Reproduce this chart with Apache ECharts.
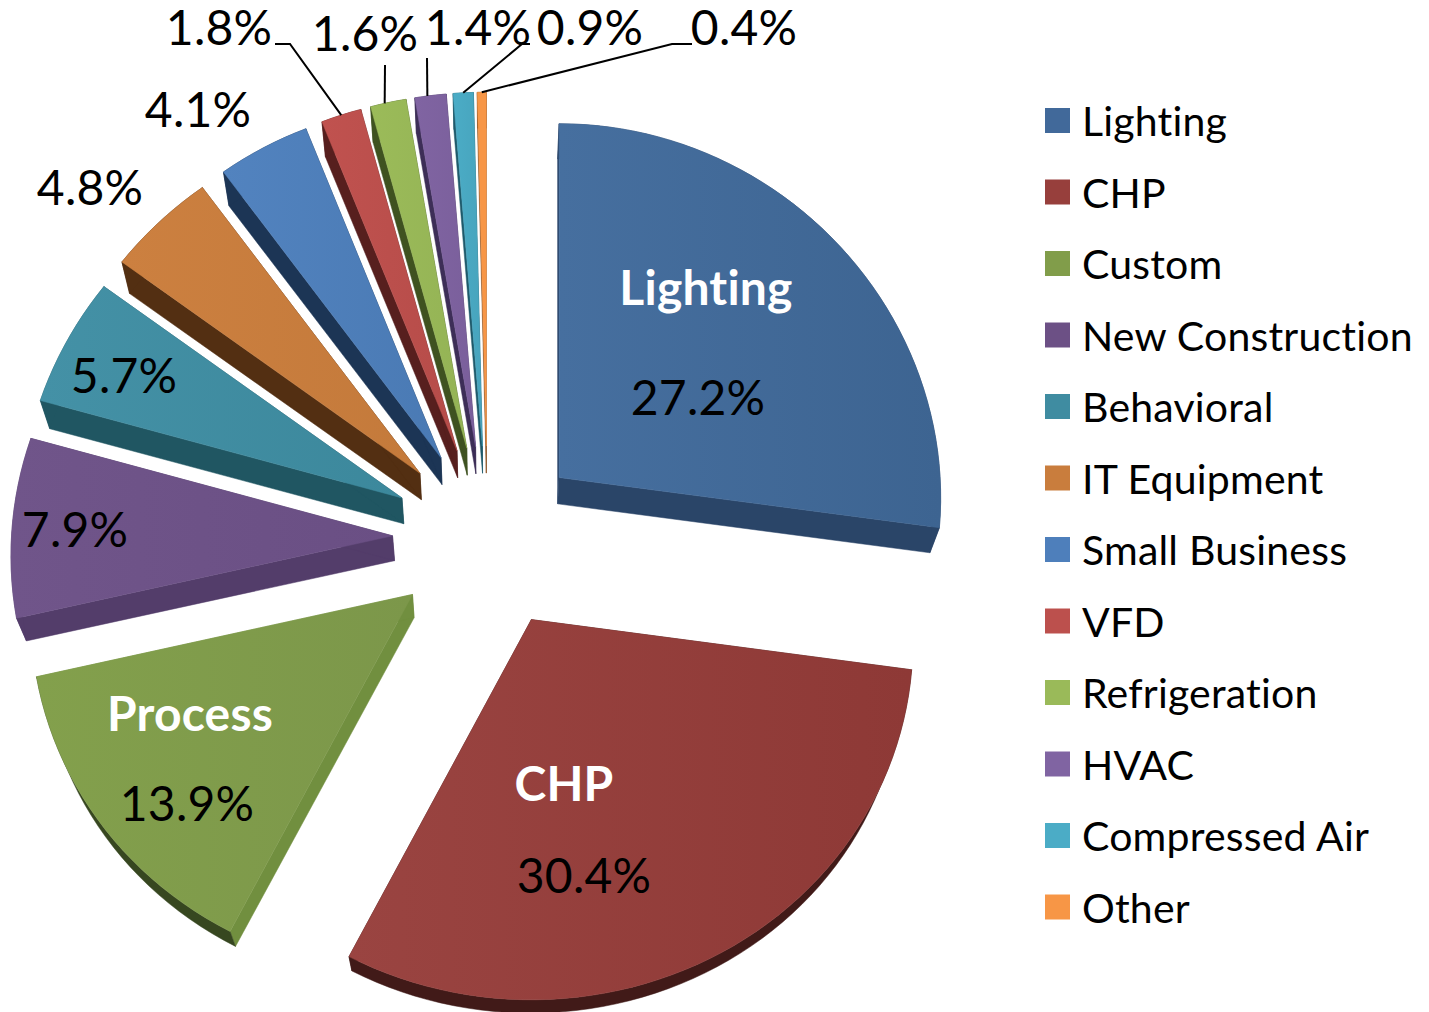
<!DOCTYPE html>
<html>
<head>
<meta charset="utf-8">
<title>Savings by measure</title>
<style>
  html, body { margin: 0; padding: 0; background: #fff; }
  #chart { width: 1429px; height: 1012px; }
  #chart text { font-variant-ligatures: none; font-feature-settings: "liga" 0, "clig" 0; letter-spacing: 0.2px; }
</style>
<script src="https://cdn.jsdelivr.net/npm/echarts@6/dist/echarts.min.js"></script>
</head>
<body>
<div id="chart"></div>
<script>
const categories = ['Lighting', 'CHP', 'Custom', 'New Construction', 'Behavioral', 'IT Equipment', 'Small Business', 'VFD', 'Refrigeration', 'HVAC', 'Compressed Air', 'Other']
const shares = [27.2, 30.4, 13.9, 7.9, 5.7, 4.8, 4.1, 1.8, 1.6, 1.4, 0.9, 0.4]
const sliceNames = ['Lighting', 'CHP', 'Process', '', '', '', '', '', '', '', '', '']

const legendColors = ['#41699A', '#973F3C', '#819D4A', '#6C5085', '#3F8CA1', '#C97D3D', '#4E7FBB', '#BC504D', '#9ABA59', '#8064A2', '#4BACC6', '#F79646']
const topLeftColors = ['#466F9F', '#9A4441', '#83A04C', '#70558A', '#4491A6', '#CC8040', '#5283BF', '#C0524F', '#9BBB59', '#8064A2', '#4BACC6', '#F79646']
const topRightColors = ['#3D6491', '#8E3936', '#7C974A', '#6A4F84', '#3C889C', '#C47A3B', '#4A7AB4', '#B64C49', '#94B355', '#7A5F9B', '#47A4BD', '#F79646']
const rimColors = ['#2A4568', '#411A18', '#374720', '#533D6A', '#205662', '#532F12', '#1C3555', '#571F1E', '#3F5220', '#3D2E57', '#1F5A6B', '#8A5020']
const cutColors = ['#2A4568', '#411A18', '#718F3F', '#533D6A', '#205662', '#532F12', '#1C3555', '#571F1E', '#3F5220', '#3D2E57', '#1F5A6B', '#8A5020']

// layout of the text, centre of each label in page pixels
const percentAt = [[698, 396], [584, 874], [187, 802], [75, 528], [124, 374], [90, 186], [198, 108], [219, 26], [365, 32], [478, 26], [590, 26], [744, 26]]
const nameAt = [[706, 286], [564, 782], [190, 712]]
// leader lines run from the label through an elbow to the rim of the slice, at a fraction of its sweep
const leaders = { 7: [[275, 44], [290, 44]], 8: [[385, 65]], 9: [[427, 58]], 10: [[530, 44], [522, 44]], 11: [[692, 44], [672, 44]] }
const leaderFrac = { 7: 0.5, 8: 0.4, 9: 0.4, 10: 0.5, 11: 0.5 }

const FONT = 'Lato, Carlito, Calibri, sans-serif'
const cx = 487.5
const cy = 538
const explodeX = 95
const explodeY = 92
const rx = 381
const ry = 367
const perspX = 0.055
const perspY = 0.036
const vanish = [488, 1530]
const total = shares.reduce((a, b) => a + b, 0)

function toRad(deg) { return deg * Math.PI / 180 }

// point on the top face of slice with the given apex
function topPoint(apex, deg) {
  const u = Math.sin(toRad(deg))
  const v = -Math.cos(toRad(deg))
  return [apex[0] + rx * u * (1 + perspX * v), apex[1] + ry * v * (1 + perspY * v)]
}

// same point on the lower face, the wall closes in on the vanishing point
function lowPoint(p) {
  return [p[0] + (vanish[0] - p[0]) * 0.021, p[1] + (vanish[1] - p[1]) * 0.025]
}

function renderSlice(idx) {
  return function (params, api) {
    const value = api.value(0)
    let before = 0
    for (let i = 0; i < idx; i++) before += shares[i]
    const a0 = before / total * 360
    const a1 = a0 + value / total * 360
    const mid = (a0 + a1) / 2
    const apex = [cx + explodeX * Math.sin(toRad(mid)), cy - explodeY * Math.cos(toRad(mid))]

    const arc = []
    const steps = Math.max(4, Math.ceil((a1 - a0) / 2))
    for (let s = 0; s <= steps; s++) arc.push(topPoint(apex, a0 + (a1 - a0) * s / steps))
    const arcLow = arc.map(lowPoint)
    const apexLow = lowPoint(apex)

    const face = (points, fill) => ({ type: 'polygon', shape: { points }, style: { fill, stroke: fill, lineWidth: 0.5 } })
    const children = [
      face([apex, arc[0], arcLow[0], apexLow], cutColors[idx]),
      face([apex, arc[steps], arcLow[steps], apexLow], cutColors[idx]),
      face(arc.concat(arcLow.slice().reverse()), rimColors[idx]),
      face([apex].concat(arc), {
        type: 'linear', x: 0, y: 0, x2: 1, y2: 0,
        colorStops: [
          { offset: 0, color: topLeftColors[idx] },
          { offset: 1, color: topRightColors[idx] }
        ]
      })
    ]

    if (leaders[idx]) {
      const rimPoint = topPoint(apex, a0 + (a1 - a0) * leaderFrac[idx])
      children.push({
        type: 'polyline',
        shape: { points: leaders[idx].concat([rimPoint]) },
        style: { fill: null, stroke: '#000', lineWidth: 2 }
      })
    }

    children.push({
      type: 'text',
      style: {
        x: percentAt[idx][0], y: percentAt[idx][1],
        text: shares[idx].toFixed(1) + '%',
        font: '400 48px ' + FONT,
        fill: '#000', align: 'center', verticalAlign: 'middle'
      }
    })
    if (sliceNames[idx]) {
      children.push({
        type: 'text',
        style: {
          x: nameAt[idx][0], y: nameAt[idx][1],
          text: sliceNames[idx],
          font: '700 48px ' + FONT,
          fill: '#fff', align: 'center', verticalAlign: 'middle'
        }
      })
    }
    return { type: 'group', children }
  }
}

const chart = echarts.init(document.getElementById('chart'), null, { renderer: 'svg' })

chart.setOption({
  animation: false,
  backgroundColor: '#fff',
  tooltip: { show: false },
  legend: {
    orient: 'vertical',
    left: 1040,
    top: 90.5,
    icon: 'rect',
    itemWidth: 25,
    itemHeight: 25,
    itemGap: 21.5,
    selectedMode: false,
    data: categories,
    textStyle: { fontFamily: FONT, fontSize: 41, lineHeight: 50, color: '#000', padding: [0, 0, 0, 7] }
  },
  series: categories.map((name, idx) => ({
    type: 'custom',
    name,
    coordinateSystem: 'none',
    silent: true,
    itemStyle: { color: legendColors[idx] },
    renderItem: renderSlice(idx),
    data: [[shares[idx]]]
  }))
})

window.addEventListener('resize', () => chart.resize())
</script>
</body>
</html>
